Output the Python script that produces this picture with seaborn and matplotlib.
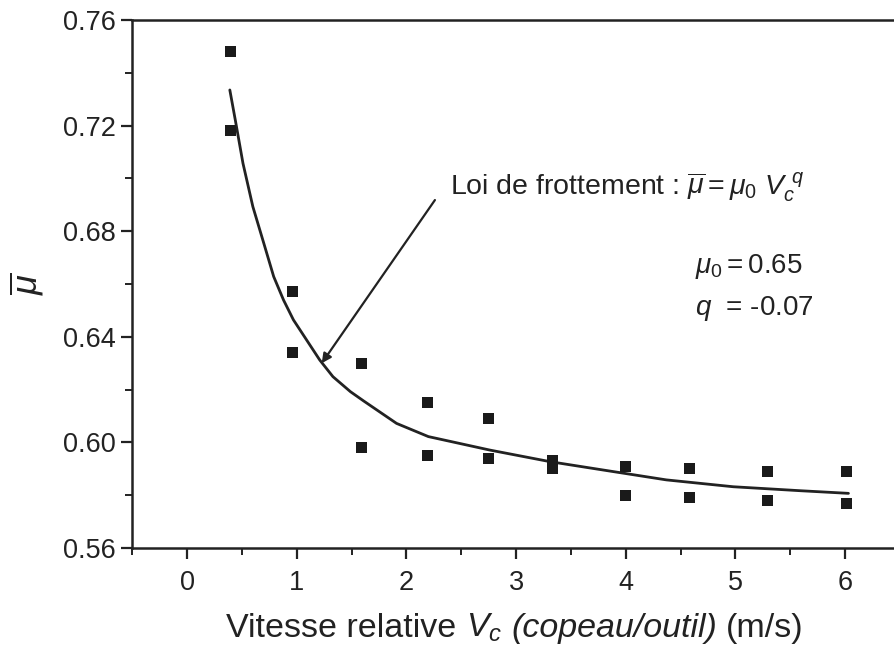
import matplotlib
matplotlib.use("Agg")
import matplotlib.pyplot as plt
from matplotlib.ticker import MultipleLocator
from matplotlib.offsetbox import TextArea, HPacker, AnchoredOffsetbox
import seaborn as sns
import pandas as pd

# Measured friction coefficient vs. sliding speed (two runs per speed)
vitesse = [0.40, 0.40, 0.96, 0.96, 1.59, 1.59, 2.19, 2.19, 2.75, 2.75,
           3.33, 3.33, 4.00, 4.00, 4.58, 4.58, 5.29, 5.29, 6.01, 6.01]
mu_mesure = [0.748, 0.718, 0.657, 0.634, 0.630, 0.598, 0.615, 0.595, 0.609, 0.594,
             0.593, 0.590, 0.591, 0.580, 0.590, 0.579, 0.589, 0.578, 0.589, 0.577]

# Friction law curve
vitesse_loi = [0.39, 0.44, 0.51, 0.60, 0.70, 0.79, 0.88, 0.97, 1.09, 1.21, 1.33,
               1.49, 1.61, 1.91, 2.20, 2.76, 3.31, 3.80, 4.37, 4.98, 5.59, 6.03]
mu_loi = [0.7335, 0.7221, 0.7057, 0.6893, 0.6754, 0.6628, 0.6539, 0.6464, 0.6388,
          0.6312, 0.6249, 0.6192, 0.6157, 0.6072, 0.6022, 0.5971, 0.5927, 0.5895,
          0.5858, 0.5832, 0.5817, 0.5807]

INK = "#222222"

sns.set_theme(style="ticks")
plt.rcParams["font.family"] = ["Liberation Sans", "DejaVu Sans"]
plt.rcParams["mathtext.fontset"] = "custom"
plt.rcParams["mathtext.rm"] = "Liberation Sans"
plt.rcParams["mathtext.it"] = "Liberation Sans:italic"
plt.rcParams["mathtext.bf"] = "Liberation Sans:bold"

fig = plt.figure(figsize=(8.94, 6.54), dpi=100)
ax = fig.add_axes([132.2 / 894, 106 / 654, (900 - 132.2) / 894, 528 / 654])

df_pts = pd.DataFrame({"v": vitesse, "mu": mu_mesure})
df_loi = pd.DataFrame({"v": vitesse_loi, "mu": mu_loi})

sns.lineplot(data=df_loi, x="v", y="mu", ax=ax, color=INK, lw=2.0, sort=False)
sns.scatterplot(data=df_pts, x="v", y="mu", ax=ax, marker="s", s=62,
                color="#1a1a1a", edgecolor="none", zorder=3)

ax.set_xlim(-0.5, 6.5)
ax.set_ylim(0.56, 0.76)
ax.set_xticks(range(0, 7))
ax.set_yticks([0.56, 0.60, 0.64, 0.68, 0.72, 0.76])
ax.set_yticklabels(["0.56", "0.60", "0.64", "0.68", "0.72", "0.76"])
ax.xaxis.set_minor_locator(MultipleLocator(0.5))
ax.yaxis.set_minor_locator(MultipleLocator(0.02))

for s in ax.spines.values():
    s.set_linewidth(1.8)
    s.set_color(INK)
ax.tick_params(axis="both", which="major", direction="out", length=8, width=1.6,
               labelsize=19.5, colors=INK, pad=4)
ax.tick_params(axis="both", which="minor", direction="out", length=5, width=1.4,
               colors=INK)
ax.tick_params(axis="x", which="major", pad=8)

# x-axis title built from pieces so the parenthesised part is fully italic
ax.set_xlabel("")
fs_lab = 24.5
parts = [
    TextArea("Vitesse relative", textprops=dict(fontsize=fs_lab, color=INK)),
    TextArea(r"$V_c$", textprops=dict(fontsize=fs_lab, color=INK)),
    TextArea("(copeau/outil)", textprops=dict(fontsize=fs_lab, color=INK,
                                              fontstyle="italic")),
    TextArea("(m/s)", textprops=dict(fontsize=fs_lab, color=INK)),
]
xlab = HPacker(children=parts, align="baseline", pad=0, sep=6.5)
fig.add_artist(AnchoredOffsetbox(loc="center", child=xlab, frameon=False,
                                 pad=0, borderpad=0,
                                 bbox_to_anchor=(515 / 894, 1 - 628 / 654),
                                 bbox_transform=fig.transFigure))

ax.set_ylabel(r"$\overline{\mu}$", fontsize=26, color=INK, labelpad=12)

ax.annotate("", xy=(1.228, 0.630), xytext=(2.26, 0.6918),
            arrowprops=dict(arrowstyle="-|>", color=INK, lw=1.6,
                            mutation_scale=14, shrinkA=0, shrinkB=0))
ax.text(2.40, 0.6940,
        r"Loi de frottement : $\overline{\mu} = \mu_{\mathit{0}}\ V_c^{\ q}$",
        fontsize=20.5, color=INK, va="baseline", ha="left")
ax.text(4.63, 0.6642, r"$\mu_{\mathit{0}} = $0.65", fontsize=20, color=INK,
        va="baseline", ha="left")
ax.text(4.63, 0.6483, r"$q$  = -0.07", fontsize=20, color=INK,
        va="baseline", ha="left")

fig.savefig("out.png", dpi=100)
